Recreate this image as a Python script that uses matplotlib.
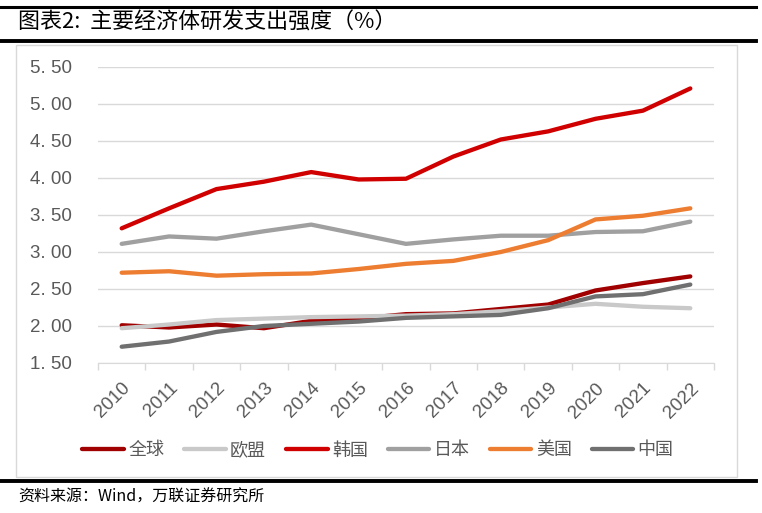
import numpy as np
import matplotlib.pyplot as plt
from matplotlib.lines import Line2D

plt.rcParams['font.family'] = ['Liberation Sans', 'Noto Sans CJK SC', 'DejaVu Sans']

years = ['2010', '2011', '2012', '2013', '2014', '2015', '2016',
         '2017', '2018', '2019', '2020', '2021', '2022']

# R&D spending as % of GDP
global_rd = [2.01, 1.98, 2.02, 1.97, 2.07, 2.10, 2.16, 2.17, 2.23, 2.29, 2.48, 2.58, 2.67]
eu_rd     = [1.97, 2.02, 2.08, 2.10, 2.12, 2.13, 2.14, 2.16, 2.20, 2.25, 2.30, 2.26, 2.24]
korea_rd  = [3.32, 3.59, 3.85, 3.95, 4.08, 3.98, 3.99, 4.29, 4.52, 4.63, 4.80, 4.91, 5.21]
japan_rd  = [3.11, 3.21, 3.18, 3.28, 3.37, 3.24, 3.11, 3.17, 3.22, 3.22, 3.27, 3.28, 3.41]
us_rd     = [2.72, 2.74, 2.68, 2.70, 2.71, 2.77, 2.84, 2.88, 3.00, 3.16, 3.44, 3.49, 3.59]
china_rd  = [1.72, 1.79, 1.92, 2.00, 2.03, 2.06, 2.11, 2.13, 2.15, 2.24, 2.40, 2.43, 2.56]

names  = ['全球', '欧盟', '韩国', '日本', '美国', '中国']
series = [global_rd, eu_rd, korea_rd, japan_rd, us_rd, china_rd]
colors = ['#A00000', '#C9C9C9', '#D00000', '#A0A0A0', '#ED7D31', '#707070']

fig = plt.figure(figsize=(7.62, 5.13), dpi=100)

# black rules + light frame
fig.add_artist(Line2D([0, 0.992], [0.9864, 0.9864], color='black', lw=2.2))
fig.add_artist(Line2D([0, 0.992], [0.920, 0.920], color='black', lw=2.8))
fig.add_artist(Line2D([0, 0.992], [0.0624, 0.0624], color='black', lw=2.8))
fig.add_artist(plt.Rectangle((0.021, 0.0702), 0.946, 0.842, fill=False,
                             edgecolor='#D9D9D9', lw=1, transform=fig.transFigure))

fig.text(0.024, 0.955, '图表2:  主要经济体研发支出强度（%）', fontsize=15.8,
         family=['Noto Sans CJK SC'], va='center', ha='left', color='black')
fig.text(0.024, 0.030, '资料来源：Wind，万联证券研究所', fontsize=11.5,
         family=['Noto Sans CJK SC'], va='center', ha='left', color='black',
         style='italic')

ax = fig.add_axes([0.1286, 0.2924, 0.8084, 0.577])
x = np.arange(len(years))
for name, vals, c in zip(names, series, colors):
    ax.plot(x, vals, color=c, lw=3.1, label=name, solid_capstyle='round')

ax.set_xlim(-0.5, len(years) - 0.5)
ax.set_ylim(1.5, 5.5)
yt = np.arange(1.5, 5.51, 0.5)
ax.set_yticks(yt)
ax.set_yticklabels([('%.2f' % v).replace('.', '. ') for v in yt])
ax.grid(axis='y', color='#D9D9D9', lw=1)
ax.set_axisbelow(True)
for s in ['top', 'right', 'left']:
    ax.spines[s].set_visible(False)
ax.spines['bottom'].set_color('#D9D9D9')
ax.tick_params(axis='y', length=0, pad=19, labelsize=13.5, labelcolor='#595959')

ax.set_xticks(x)
ax.set_xticklabels(years, rotation=45, ha='right', rotation_mode='anchor')
ax.set_xticks(np.arange(-0.5, len(years), 1), minor=True)
ax.tick_params(axis='x', which='major', length=0, pad=12, labelsize=13.5,
               labelcolor='#595959')
ax.tick_params(axis='x', which='minor', length=5, color='#D9D9D9', width=1)

handles = [Line2D([0], [0], color=c, lw=3.1, solid_capstyle='round') for c in colors]
leg = fig.legend(handles, names, loc='center', bbox_to_anchor=(0.496, 0.122),
                 ncol=6, frameon=False, handlelength=2.3, handletextpad=0.25,
                 columnspacing=1.1, prop={'family': 'Noto Sans CJK SC', 'size': 13})
for t in leg.get_texts():
    t.set_color('#595959')

fig.savefig('out.png', dpi=100)
